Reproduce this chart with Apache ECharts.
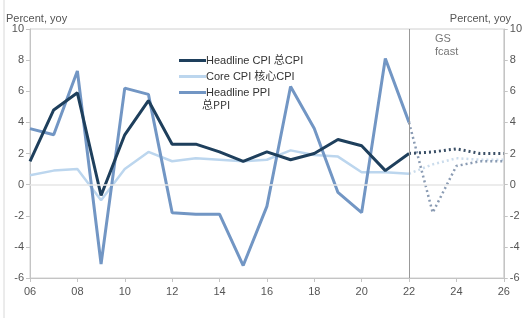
<!DOCTYPE html>
<html>
<head>
<meta charset="utf-8">
<title>CPI / PPI</title>
<script src="https://cdn.jsdelivr.net/npm/echarts@6/dist/echarts.min.js"></script>
<style>
  html, body { margin: 0; padding: 0; background: #fff; }
  #main { width: 525px; height: 318px; }
</style>
</head>
<body>
<div id="main"></div>
<script>
// actual years and forecast years
var years = [2006, 2007, 2008, 2009, 2010, 2011, 2012, 2013, 2014, 2015, 2016, 2017, 2018, 2019, 2020, 2021, 2022];
var fcastYears = [2022, 2023, 2024, 2025, 2026];

var headlineCPI = [1.5, 4.8, 5.9, -0.7, 3.2, 5.4, 2.6, 2.6, 2.1, 1.5, 2.1, 1.6, 2.0, 2.9, 2.5, 0.9, 2.0];
var coreCPI = [0.6, 0.9, 1.0, -1.0, 1.0, 2.1, 1.5, 1.7, 1.6, 1.5, 1.6, 2.2, 1.9, 1.8, 0.8, 0.8, 0.7];
var headlinePPI = [3.6, 3.2, 7.3, -5.1, 6.2, 5.8, -1.8, -1.9, -1.9, -5.2, -1.4, 6.3, 3.6, -0.5, -1.8, 8.1, 4.0];

var headlineCPIF = [2.0, 2.1, 2.3, 2.0, 2.0];
var coreCPIF = [0.7, 1.3, 1.7, 1.6, 1.6];
var headlinePPIF = [4.0, -1.8, 1.2, 1.5, 1.5];

function pairs(xs, ys) {
  return xs.map(function (x, i) { return [x, ys[i]]; });
}

var cDark = '#1e3f5c', cLight = '#bcd6ee', cMid = '#7296c4';
var font = 'Liberation Sans, Arial, sans-serif';

var yAxisBase = {
  type: 'value', min: -6, max: 10, interval: 2,
  axisLine: { show: true, lineStyle: { color: '#c4c4c4' } },
  axisTick: { show: true, length: 4, lineStyle: { color: '#c4c4c4' } },
  splitLine: { show: false },
  axisLabel: { color: '#555', fontSize: 11, fontFamily: font, margin: 6 }
};

var myChart = echarts.init(document.getElementById('main'));
myChart.setOption({
  animation: false,
  grid: { left: 30, right: 20, top: 29, bottom: 40, show: true, borderColor: '#d0d0d0', borderWidth: 1 },
  legend: {
    orient: 'vertical', left: 174, top: 50, itemGap: 5,
    itemWidth: 27, itemHeight: 3, icon: 'rect',
    data: ['Headline CPI', 'Core CPI', 'Headline PPI'],
    formatter: function (n) {
      if (n === 'Headline CPI') return 'Headline CPI 总CPI';
      if (n === 'Core CPI') return 'Core CPI 核心CPI';
      return n;
    },
    textStyle: { color: '#333', fontSize: 11, fontFamily: font + ', Noto Sans CJK SC', padding: [0, 0, 0, -5] }
  },
  xAxis: {
    type: 'value', min: 2006, max: 2026, interval: 2,
    axisLine: { show: true, onZero: false, lineStyle: { color: '#c4c4c4' } },
    axisTick: { show: true, length: 4, lineStyle: { color: '#c4c4c4' } },
    splitLine: { show: false },
    axisLabel: {
      color: '#555', fontSize: 11, fontFamily: font, margin: 8,
      formatter: function (v) { return String(v).slice(2); }
    }
  },
  yAxis: [
    Object.assign({}, yAxisBase, { position: 'left' }),
    Object.assign({}, yAxisBase, { position: 'right' })
  ],
  graphic: [
    { type: 'text', left: 6, top: 13, style: { text: 'Percent, yoy', fill: '#555', font: '11px ' + font } },
    { type: 'text', right: 14, top: 13, style: { text: 'Percent, yoy', fill: '#555', font: '11px ' + font } },
    { type: 'text', left: 435, top: 32, style: { text: 'GS\nfcast', fill: '#777', font: '11px ' + font, align: 'center', lineHeight: 13 } },
    { type: 'text', left: 202, top: 99, style: { text: '总PPI', fill: '#333', font: '11px Noto Sans CJK SC' } },
    { type: 'line', shape: { x1: 4, y1: 0, x2: 4, y2: 318 }, style: { stroke: '#d8d8d8', lineWidth: 1 } }
  ],
  series: [
    {
      name: 'zero', type: 'line', data: [], silent: true,
      markLine: {
        symbol: 'none', silent: true, label: { show: false },
        data: [
          { yAxis: 0, lineStyle: { color: '#e6e6e6', width: 1.5, type: 'solid' } },
          { xAxis: 2022, lineStyle: { color: '#999', width: 1, type: 'solid' } }
        ]
      }
    },
    {
      name: 'Core CPI', type: 'line', data: pairs(years, coreCPI),
      symbol: 'none', lineStyle: { color: cLight, width: 2.5 }, itemStyle: { color: cLight }, z: 2
    },
    {
      name: 'Headline PPI', type: 'line', data: pairs(years, headlinePPI),
      symbol: 'none', lineStyle: { color: cMid, width: 3 }, itemStyle: { color: cMid }, z: 3
    },
    {
      name: 'Headline CPI', type: 'line', data: pairs(years, headlineCPI),
      symbol: 'none', lineStyle: { color: cDark, width: 3 }, itemStyle: { color: cDark }, z: 4
    },
    {
      name: 'Core CPI f', type: 'line', data: pairs(fcastYears, coreCPIF),
      symbol: 'none', lineStyle: { color: '#cbdcec', width: 2.5, type: [2, 3] }, z: 2
    },
    {
      name: 'Headline PPI f', type: 'line', data: pairs(fcastYears, headlinePPIF),
      symbol: 'none', lineStyle: { color: '#8a9bb3', width: 2.5, type: [2, 3] }, z: 3
    },
    {
      name: 'Headline CPI f', type: 'line', data: pairs(fcastYears, headlineCPIF),
      symbol: 'none', lineStyle: { color: '#3a4f66', width: 3, type: [2, 3] }, z: 4
    }
  ]
});
</script>
</body>
</html>
